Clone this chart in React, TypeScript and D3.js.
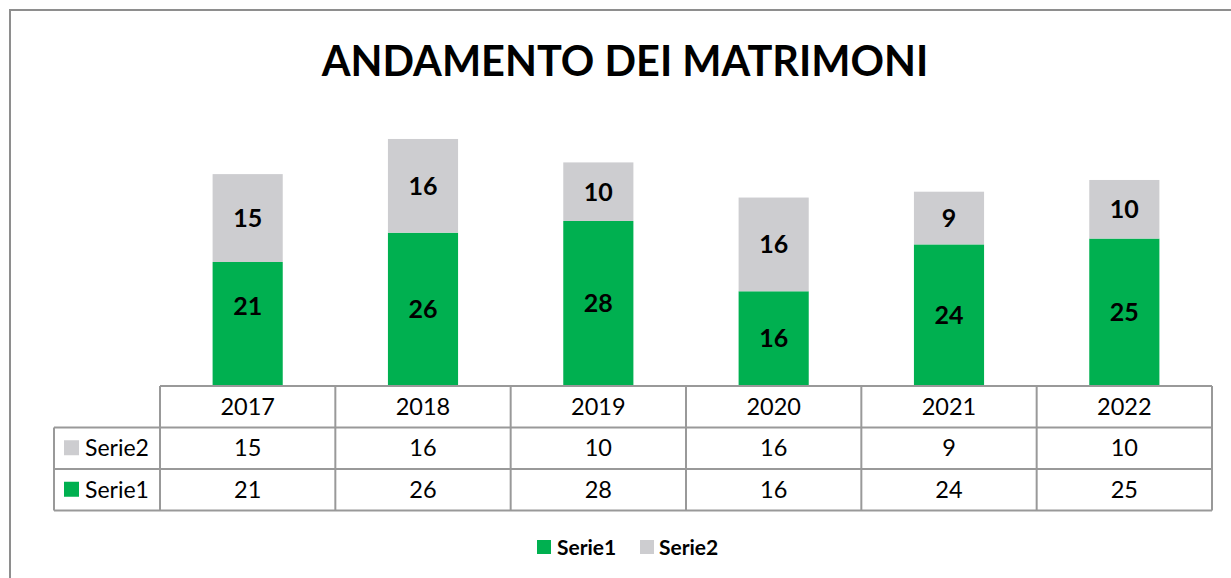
import React from "react";
import * as d3 from "d3";

const categories = ["2017", "2018", "2019", "2020", "2021", "2022"];
const serie1 = [21, 26, 28, 16, 24, 25];
const serie2 = [15, 16, 10, 16, 9, 10];
const seriesNames = ["Serie1", "Serie2"];
const title = "ANDAMENTO DEI MATRIMONI";

const GREEN = "#00B050";
const GRAY = "#CDCDD0";
const LINE = "#999999";
const FONT = "Lato, 'Open Sans', sans-serif";

// manual label nudge (the 2017 Serie1 label sits higher in the original)
const labelNudge: Record<string, number> = { "Serie1-2017": -17 };

export default function App() {
  const W = 1231, H = 578;
  const plotL = 160, plotR = 1212;
  const baseY = 385;
  const x = d3.scaleBand<string>().domain(categories).range([plotL, plotR]).paddingInner(0.6).paddingOuter(0.3);
  const cat = d3.scaleBand<string>().domain(categories).range([plotL, plotR]);
  const y = d3.scaleLinear().domain([0, 45]).range([baseY, baseY - 263.6]);

  const stackData = categories.map((c, i) => ({ c, Serie1: serie1[i], Serie2: serie2[i] }));
  const stack = d3.stack<any>().keys(seriesNames)(stackData);
  const colors: Record<string, string> = { Serie1: GREEN, Serie2: GRAY };

  const rowTop = 386, rowH = 41.5;
  const rows = [
    { name: "Serie2", vals: serie2, color: GRAY },
    { name: "Serie1", vals: serie1, color: GREEN },
  ];
  const labelL = 54;

  return (
    <svg width={W} height={H} style={{ position: "absolute", left: 0, top: 0, background: "#fff" }} fontFamily={FONT}>
      <rect x={10} y={10} width={W + 20} height={H + 20} fill="#fff" stroke="#8E8E8E" strokeWidth={2} />
      <text x={625} y={76} textAnchor="middle" fontSize={41.5} fontWeight="bold" fill="#000">{title}</text>

      {stack.map((s) => (
        <g key={s.key}>
          {s.map((d, i) => {
            const c = categories[i];
            const y0 = y(d[0]), y1 = y(d[1]);
            const nudge = labelNudge[`${s.key}-${c}`] || 0;
            return (
              <g key={c}>
                <rect x={x(c)} y={y1} width={x.bandwidth()} height={y0 - y1} fill={colors[s.key]} />
                <text x={(x(c) as number) + x.bandwidth() / 2} y={(y0 + y1) / 2 + 9 + nudge} textAnchor="middle" fontSize={25} fontWeight="bold" fill="#000">
                  {d[1] - d[0]}
                </text>
              </g>
            );
          })}
        </g>
      ))}

      {/* data table */}
      <g stroke={LINE} strokeWidth={2} fill="none">
        <line x1={plotL} x2={plotR} y1={rowTop} y2={rowTop} />
        <line x1={labelL} x2={plotR} y1={rowTop + rowH} y2={rowTop + rowH} />
        <line x1={labelL} x2={plotR} y1={rowTop + 2 * rowH} y2={rowTop + 2 * rowH} />
        <line x1={labelL} x2={plotR} y1={rowTop + 3 * rowH} y2={rowTop + 3 * rowH} />
        <line x1={labelL} x2={labelL} y1={rowTop + rowH} y2={rowTop + 3 * rowH} />
        {categories.map((c) => (
          <line key={c} x1={cat(c)} x2={cat(c)} y1={rowTop} y2={rowTop + 3 * rowH} />
        ))}
        <line x1={plotR} x2={plotR} y1={rowTop} y2={rowTop + 3 * rowH} />
      </g>
      {categories.map((c) => (
        <text key={c} x={(cat(c) as number) + cat.bandwidth() / 2} y={rowTop + rowH / 2 + 8} textAnchor="middle" fontSize={23.5} fill="#000">{c}</text>
      ))}
      {rows.map((r, ri) => {
        const ry = rowTop + (ri + 1) * rowH;
        return (
          <g key={r.name}>
            <rect x={64} y={ry + rowH / 2 - 8} width={15} height={15} fill={r.color} />
            <text x={85} y={ry + rowH / 2 + 8} fontSize={23} fill="#000">{r.name}</text>
            {r.vals.map((v, i) => (
              <text key={i} x={(cat(categories[i]) as number) + cat.bandwidth() / 2} y={ry + rowH / 2 + 8} textAnchor="middle" fontSize={23.5} fill="#000">{v}</text>
            ))}
          </g>
        );
      })}

      {/* legend */}
      <g>
        <rect x={537} y={540} width={14} height={14} fill={GREEN} />
        <text x={557} y={555} fontSize={21} fontWeight="bold" fill="#000">{seriesNames[0]}</text>
        <rect x={640} y={540} width={14} height={14} fill={GRAY} />
        <text x={659} y={555} fontSize={21} fontWeight="bold" fill="#000">{seriesNames[1]}</text>
      </g>
    </svg>
  );
}
